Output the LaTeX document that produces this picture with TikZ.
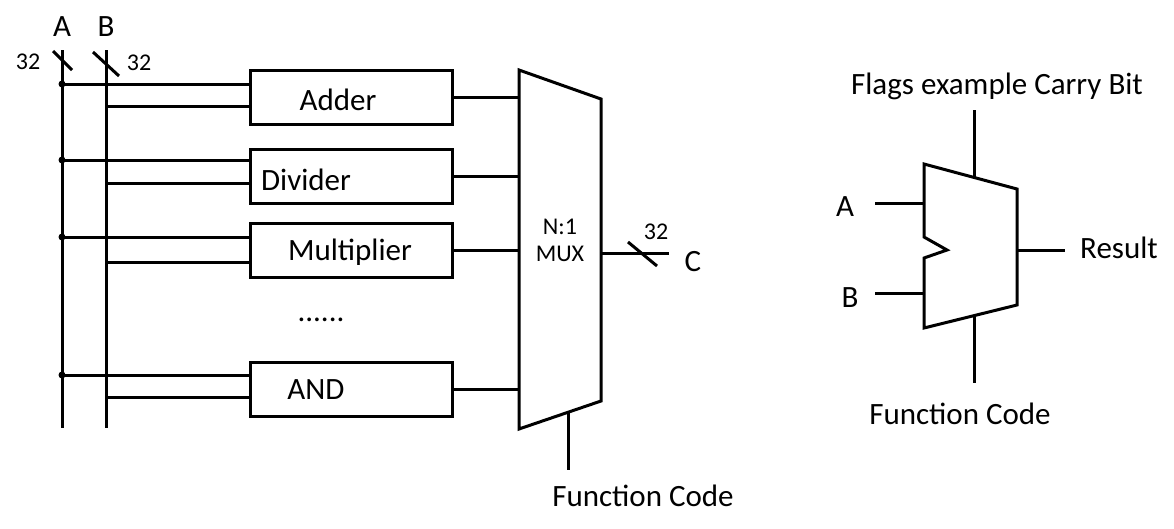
\documentclass[tikz,border=0pt]{standalone}
\usepackage{fontspec}
\setmainfont{Carlito}
\begin{document}
\begin{tikzpicture}[x=1pt,y=-1pt,
  wire/.style={line width=3pt},
  blk/.style={draw,line width=3pt,minimum width=202pt,minimum height=54pt,inner sep=0pt},
  lbl/.style={font=\fontsize{31}{33}\selectfont,inner sep=0pt},
  small/.style={font=\fontsize{24}{26}\selectfont,inner sep=0pt},
  dot/.style={circle,fill,inner sep=0pt,minimum size=7pt}]
\useasboundingbox (0,0) rectangle (1174,528);
% bus lines
\coordinate (aTop) at (62,50); \coordinate (aBot) at (62,428);
\coordinate (bTop) at (106,50); \coordinate (bBot) at (106,428);
\draw[wire] (aTop) -- (aBot);
\draw[wire] (bTop) -- (bBot);
\node[lbl] (labA) at (62,27) {A};
\node[lbl] (labB) at (106,27) {B};
\coordinate (sa1) at (53,51); \coordinate (sa2) at (72,70);
\coordinate (sb1) at (93,52); \coordinate (sb2) at (119,76);
\draw[wire] (sa1) -- (sa2);
\draw[wire] (sb1) -- (sb2);
\node[small] (n32a) at (28,62) {32};
\node[small] (n32b) at (139,63) {32};
% blocks
\node[blk] (adder) at (351,97) {};
\node[blk] (divider) at (351,176) {};
\node[blk] (mult) at (351,250.5) {};
\node[blk] (andb) at (351,389) {};
\node[lbl] (tAdder) at (338,100) {Adder};
\node[lbl] (tDiv) at (306,180) {Divider};
\node[lbl] (tMult) at (350,252) {Multiplier};
\node[lbl] (tAnd) at (316,390) {AND};
\node[lbl] (dots) at (321,320) {......};
% taps
\foreach \b/\ya/\yb in {adder/84/106, divider/160/183, mult/237/262, andb/375/397}{
  \node[dot] (d\b) at (62,\ya) {};
  \draw[wire] (d\b.center) -- (\b.west |- d\b.center);
  \coordinate (c\b) at (106,\yb);
  \draw[wire] (c\b) -- (\b.west |- c\b);
}
% MUX
\coordinate (m1) at (519,70); \coordinate (m2) at (601,99);
\coordinate (m3) at (601,401); \coordinate (m4) at (519,429);
\draw[wire,line join=miter,fill=white] (m1) -- (m2) -- (m3) -- (m4) -- cycle;
\node[small] (mux1) at (560,227) {N:1};
\node[small] (mux2) at (560,254) {MUX};
\foreach \b in {adder,divider,mult,andb}{
  \draw[wire] (\b.east) -- (\b.east -| m1);
}
\coordinate (mo) at (601,253); \coordinate (moE) at (669,253);
\draw[wire] (mo) -- (moE);
\coordinate (ms1) at (628,242); \coordinate (ms2) at (657,266);
\draw[wire] (ms1) -- (ms2);
\node[small] (n32c) at (656,232) {32};
\node[lbl] (labC) at (693,262) {C};
\coordinate (fc1) at (568,413); \coordinate (fc2) at (568,470);
\draw[wire] (fc1) -- (fc2);
\node[lbl] (fcl) at (643,496) {Function Code};
% ALU
\coordinate (u1) at (924,164); \coordinate (u2) at (1017,189);
\coordinate (u3) at (1017,305); \coordinate (u4) at (924,328);
\coordinate (n1) at (924,258); \coordinate (n2) at (947,250); \coordinate (n3) at (924,237);
\draw[wire,line join=miter] (u1) -- (u2) -- (u3) -- (u4) -- (n1) -- (n2) -- (n3) -- cycle;
\coordinate (ft) at (974,110); \coordinate (fb) at (974,177);
\draw[wire] (ft) -- (fb);
\coordinate (gt) at (974,316); \coordinate (gb) at (974,383);
\draw[wire] (gt) -- (gb);
\coordinate (ia) at (875,203); \coordinate (ib) at (875,293);
\draw[wire] (ia) -- (ia -| u1);
\draw[wire] (ib) -- (ib -| u1);
\coordinate (ro) at (1065,250);
\draw[wire] (ro -| u2) -- (ro);
\node[lbl] (rA) at (845,207) {A};
\node[lbl] (rB) at (850,298) {B};
\node[lbl] (rRes) at (1119,248) {Result};
\node[lbl] (rFlag) at (997,86) {Flags example Carry Bit};
\node[lbl] (rFc) at (960,414) {Function Code};
\end{tikzpicture}
\end{document}
